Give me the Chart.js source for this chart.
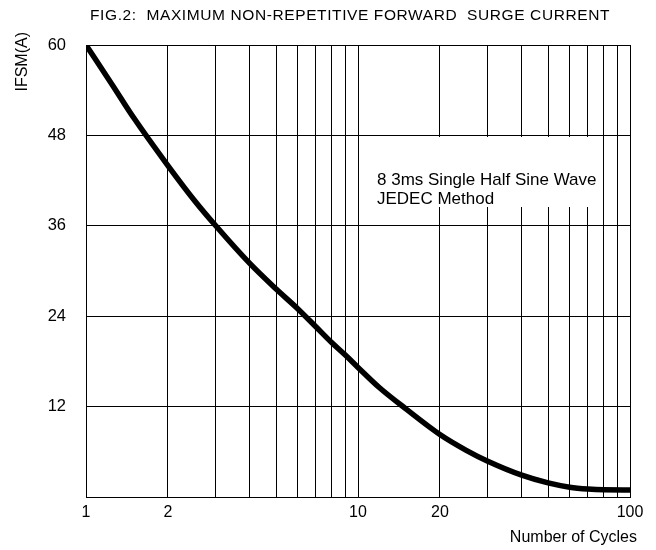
<!DOCTYPE html>
<html>
<head>
<meta charset="utf-8">
<script src="https://cdn.jsdelivr.net/npm/chart.js@4"></script>
<style>html,body{margin:0;padding:0;background:#fff}canvas{display:block}</style>
</head>
<body>
<canvas id="c" width="656" height="550"></canvas>
<script>
// ---- data ----
const cycles = [1, 1.25, 1.5, 2, 2.5, 3, 4, 5, 6, 7, 8, 9, 10, 12, 15, 20, 25, 30, 40, 50, 60, 70, 80, 100];
const ifsm   = [60, 54.7, 50.3, 44.0, 39.4, 36.0, 31.0, 27.6, 25.0, 22.6, 20.5, 18.8, 17.2, 14.5, 11.7, 8.3, 6.2, 4.75, 2.9, 1.87, 1.3, 1.05, 0.95, 0.93];
const xGridValues = [1, 2, 3, 4, 5, 6, 7, 8, 9, 10, 20, 30, 40, 50, 60, 70, 80, 90, 100];
const xTickLabels = [1, 2, 10, 20, 100];
const yTickStep = 12;
const chartTitle = 'FIG.2:  MAXIMUM NON-REPETITIVE FORWARD  SURGE CURRENT';
const yTitle = 'IFSM(A)';
const xTitle = 'Number of Cycles';
const noteLines = ['8 3ms Single Half Sine Wave', 'JEDEC Method'];

const FONT = '"Liberation Sans", Arial, sans-serif';

const textPlugin = {
  id: 'texts',
  beforeDatasetsDraw(chart) {
    const ctx = chart.ctx, ca = chart.chartArea;
    ctx.save();
    ctx.fillStyle = '#fff';
    ctx.fillRect(ca.left + 276, ca.top + 92, 234, 70);
    ctx.fillStyle = '#000';
    ctx.font = '17px ' + FONT;
    ctx.textAlign = 'left';
    ctx.textBaseline = 'alphabetic';
    ctx.fillText(noteLines[0], ca.left + 291, ca.top + 140);
    ctx.fillText(noteLines[1], ca.left + 291, ca.top + 159);
    ctx.restore();
  },
  afterDraw(chart) {
    const ctx = chart.ctx;
    ctx.save();
    ctx.fillStyle = '#000';
    // main title
    ctx.font = '15.5px ' + FONT;
    if ('letterSpacing' in ctx) ctx.letterSpacing = '0.6px';
    ctx.textAlign = 'left';
    ctx.textBaseline = 'alphabetic';
    ctx.fillText(chartTitle, 90, 19.5);
    if ('letterSpacing' in ctx) ctx.letterSpacing = '0px';
    // x title
    ctx.font = '16px ' + FONT;
    ctx.textAlign = 'right';
    ctx.fillText(xTitle, 637, 541.5);
    // y title
    ctx.translate(23, 32);
    ctx.rotate(-Math.PI / 2);
    ctx.textAlign = 'right';
    ctx.textBaseline = 'middle';
    ctx.fillText(yTitle, 0, 0);
    ctx.restore();
  }
};

new Chart(document.getElementById('c'), {
  type: 'line',
  data: {
    datasets: [{
      data: cycles.map((c, i) => ({ x: c, y: ifsm[i] })),
      borderColor: '#000',
      borderWidth: 5.5,
      pointRadius: 0,
      fill: false,
      cubicInterpolationMode: 'monotone',
      borderCapStyle: 'round',
      borderJoinStyle: 'round'
    }]
  },
  options: {
    responsive: false,
    animation: false,
    devicePixelRatio: 1,
    layout: { padding: { top: 45, right: 26, left: 0, bottom: 0 } },
    plugins: { legend: { display: false }, tooltip: { enabled: false }, title: { display: false } },
    scales: {
      x: {
        type: 'logarithmic',
        min: 1, max: 100,
        afterBuildTicks: s => { s.ticks = xGridValues.map(v => ({ value: v })); },
        afterFit: s => { s.height = 53; },
        ticks: {
          autoSkip: false, maxRotation: 0, minRotation: 0, padding: 6, color: '#000',
          font: { family: FONT, size: 16 },
          callback: v => xTickLabels.includes(v) ? String(v) : ''
        },
        grid: { color: '#000', lineWidth: 1, drawTicks: false },
        border: { color: '#000', width: 1 }
      },
      y: {
        type: 'linear',
        min: 0, max: 60,
        afterFit: s => { s.width = 86; },
        ticks: {
          stepSize: yTickStep, padding: 20, color: '#000',
          font: { family: FONT, size: 16.5 },
          callback: v => v === 0 ? '' : String(v)
        },
        grid: { color: '#000', lineWidth: 1, drawTicks: false },
        border: { color: '#000', width: 1 }
      }
    }
  },
  plugins: [textPlugin]
});
</script>
</body>
</html>
